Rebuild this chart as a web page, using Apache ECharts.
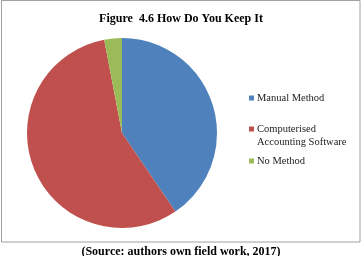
<!DOCTYPE html>
<html>
<head>
    <title></title>
    <script src="https://cdn.jsdelivr.net/npm/echarts@6/dist/echarts.min.js"></script>
    <style>
        html, body { margin: 0; padding: 0; background: #fff; }
    </style>
</head>
<body>
<div id="main" style="width: 362px;height:256px;"></div>
<script type="text/javascript">
var categories = ['Manual Method', 'Computerised Accounting Software', 'No Method'];
var shares = [40.5, 56.5, 3];
var colors = ['#4F81BD', '#C0504D', '#9BBB59'];
// legend text as it is wrapped in the picture: first line next to the icon, rest below
var legendLabels = ['Manual Method', 'Computerised', 'No Method'];
var legendExtra = ['', 'Accounting Software', ''];
var legendTops = [90, 121, 153];

var myChart = echarts.init(document.getElementById('main'));

var pieData = [];
for (var i = 0; i < categories.length; i++) {
    pieData.push({name: categories[i], value: shares[i], itemStyle: {color: colors[i]}});
}

var legendFont = {fontFamily: 'Liberation Serif', fontSize: 10.5, color: '#222'};

// one legend per item so each one sits where the picture has it
var legends = [];
var extraTexts = [];
for (var i = 0; i < categories.length; i++) {
    legends.push({
        data: [categories[i]],
        left: 249,
        top: legendTops[i],
        padding: 0,
        icon: 'rect',
        itemWidth: 5,
        itemHeight: 5,
        selectedMode: false,
        formatter: (function (lbl) { return function () { return lbl; }; })(legendLabels[i]),
        textStyle: Object.assign({padding: [0, 0, 0, -2]}, legendFont)
    });
    if (legendExtra[i]) {
        extraTexts.push({
            type: 'text',
            left: 257,
            top: legendTops[i] + 13,
            silent: true,
            style: {text: legendExtra[i], font: '10.5px "Liberation Serif"', fill: legendFont.color}
        });
    }
}

myChart.setOption({
    animation: false,
    title: [{
        text: 'Figure  4.6 How Do You Keep It',
        left: 'center',
        top: 4,
        textStyle: {fontFamily: 'Liberation Serif', fontWeight: 'bold', fontSize: 12, color: '#000'}
    }, {
        text: '(Source: authors own field work, 2017)',
        left: 'center',
        top: 242,
        padding: 0,
        textStyle: {fontFamily: 'Liberation Serif', fontWeight: 'bold', fontSize: 12, color: '#000'}
    }],
    legend: legends,
    graphic: [{
        type: 'rect',
        shape: {x: 1.5, y: 0.5, width: 358.5, height: 241.5},
        style: {fill: 'none', stroke: '#a0a0a0', lineWidth: 1},
        silent: true
    }].concat(extraTexts),
    series: [{
        type: 'pie',
        center: [122, 133],
        radius: 95,
        startAngle: 90,
        clockwise: true,
        label: {show: false},
        labelLine: {show: false},
        emphasis: {disabled: true},
        itemStyle: {borderWidth: 0},
        data: pieData
    }]
});
</script>

</body>
</html>
